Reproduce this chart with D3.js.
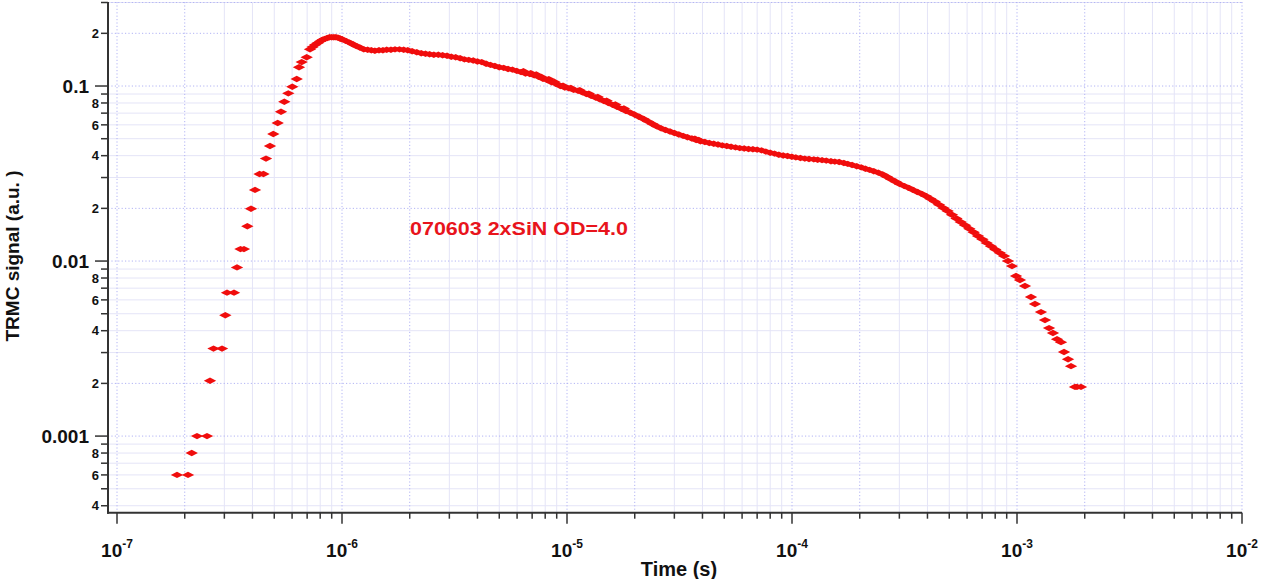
<!DOCTYPE html>
<html><head><meta charset="utf-8">
<script src="https://cdn.jsdelivr.net/npm/d3@7"></script>
<style>html,body{margin:0;padding:0;background:#fff;} svg{display:block;}</style>
</head><body><svg id="c" width="1261" height="579"></svg>
<script>
// ---- data: [time in microseconds, TRMC signal (a.u.)] ----
const risePts = [[0.1848,0.0006],[0.2068,0.0006],[0.2148,0.0008],[0.2268,0.001],[0.2512,0.001],[0.2590,0.00207],[0.2685,0.00316],[0.2929,0.00316],[0.3030,0.0049],[0.3083,0.0066],[0.3311,0.0066],[0.3415,0.0092],[0.3538,0.0117],[0.3667,0.0117],
[0.3795,0.0158],[0.3941,0.0199],[0.4106,0.0255],[0.4300,0.0314],[0.4478,0.0314],[0.4595,0.0385],[0.4786,0.0454],[0.4951,0.0532],[0.5178,0.0615],[0.5357,0.0713],[0.5541,0.0813],[0.5772,0.0908],[0.6013,0.0991],[0.6291,0.1097],[0.6440,0.128],[0.6620,0.137],[0.6968,0.146],[0.7206,0.162]];
const peakPts = [[0.74,0.167],[0.76,0.172],[0.78,0.176],[0.80,0.180],[0.82,0.184],[0.84,0.186],[0.86,0.188],[0.88,0.190],[0.90,0.190],[0.92,0.190],[0.94,0.190],[0.96,0.189],[0.98,0.187],[1.00,0.185],
[1.04,0.181],[1.08,0.177],[1.12,0.173],[1.16,0.169],[1.20,0.166],[1.25,0.162],[1.30,0.161],[1.35,0.160],[1.40,0.159],[1.46,0.160],[1.52,0.160],[1.58,0.161],[1.65,0.161],[1.72,0.162],[1.80,0.162],[1.88,0.161],[1.96,0.160],
[2.05,0.158],[2.15,0.156],[2.25,0.154],[2.35,0.153],[2.45,0.152],[2.56,0.151],[2.68,0.151],[2.80,0.150],[2.93,0.149],[3.06,0.147],[3.20,0.146],[3.35,0.144],[3.50,0.142],[3.66,0.141],[3.83,0.140],[4.00,0.138]];
const decayPts = [[4.18,0.137],[4.37,0.134],[4.57,0.132],[4.78,0.130],[5.00,0.128],[5.23,0.127],[5.47,0.125],[5.72,0.124],[5.98,0.122],[6.25,0.120],[6.54,0.118],[6.84,0.117],[7.15,0.115],[7.48,0.113],[7.82,0.110],[8.18,0.108],[8.55,0.105],[8.94,0.103],[9.35,0.100],
[9.78,0.098],[10.2,0.097],[10.7,0.095],[11.2,0.094],[11.7,0.092],[12.2,0.090],[12.8,0.088],[13.4,0.086],[14.0,0.084],[14.6,0.082],[15.3,0.080],[16.0,0.078],[16.7,0.076],[17.5,0.074],[18.3,0.072],[19.1,0.0705],[20.0,0.0686],[20.9,0.0668],[21.9,0.0648],[22.9,0.0628],[24.0,0.0607],[25.1,0.0588],[26.2,0.0573],[27.4,0.0561],[28.7,0.0550],[30.0,0.0539],[31.4,0.0528],[32.8,0.0519],[34.3,0.0510],[35.9,0.0501],[37.5,0.0492],[39.2,0.0484],[41.0,0.0479],[42.9,0.0473],[44.9,0.0468],[46.9,0.0463],[49.0,0.0458],[51.3,0.0454],[53.6,0.0450],[56.1,0.0446],[58.6,0.0442],[61.3,0.0440],[64.1,0.0437],[67.0,0.0435],[70.0,0.0433],[73.2,0.0429],[76.5,0.0422],[80.0,0.0416],[83.6,0.0411],[87.4,0.0405],[91.4,0.0401],[95.5,0.0398],[99.8,0.0394]];
const noisePts = [[6.4,0.1215],[6.9,0.1185],[7.3,0.1165],[7.7,0.1125],[8.3,0.1095],[8.8,0.1055],[9.6,0.1005],[10.4,0.0975],[11.4,0.0945],[12.5,0.0905],[13.7,0.0865],[15.0,0.0825],[16.4,0.0785],[17.9,0.0745],[37.0,0.0500],[38.5,0.0492]];
const slowPts = [[104,0.0391],[109,0.0388],[114,0.0385],[119,0.0383],[125,0.0381],[130,0.0379],[136,0.0377],[142,0.0375],[149,0.0372],[155,0.0370],[162,0.0368],[170,0.0363],[177,0.0359],[185,0.0354],[194,0.0348],[203,0.0343],[212,0.0337],[221,0.0332],[231,0.0326],[242,0.0320],[253,0.0312],[264,0.0303],[276,0.0293],[289,0.0284],[302,0.0275],[316,0.0268],[330,0.0262],[345,0.0255],[361,0.0248],[377,0.0242],[394,0.0235],[412,0.0227],[431,0.0219],[450,0.0210],[471,0.0201],[492,0.0193],[514,0.0184],[538,0.0175],[562,0.0167],[588,0.0160],[614,0.0153],[642,0.0146],[671,0.0139],[702,0.0133],[733,0.0127],[767,0.01215],[801,0.01165],[838,0.01114]];
const tailPts = [[876,0.01068],[912,0.0100],[950,0.00936],[990,0.00821],[1031,0.00779],[1085,0.00720],[1154,0.00623],[1202,0.00568],[1278,0.00511],[1332,0.00460],[1388,0.00414],[1445,0.00388],[1506,0.00358],[1569,0.00344],[1618,0.00302],[1686,0.00275],[1738,0.00251],[1810,0.00191],[1848,0.00191],[1925,0.00191]];

const xMajorTicks = [1e-7,1e-6,1e-5,1e-4,1e-3,1e-2];
const xMajorExps = ["-7","-6","-5","-4","-3","-2"];
const yMajorTicks = [0.001,0.01,0.1];
const yMajorLabels = ["0.001","0.01","0.1"];
const yMinorLabelMults = [2,4,6,8];
const gridDottedMults = [1,2];
const xTitle = "Time (s)";
const yTitle = "TRMC signal (a.u. )";
const annotation = "070603 2xSiN OD=4.0";

// ---- drawing ----
const svg = d3.select("#c");
const FONT = "'Liberation Sans', Arial, Helvetica, sans-serif";
const x = d3.scaleLog().domain([9.12e-8, 1e-2]).range([108, 1242]);
const y = d3.scaleLog().domain([3.65e-4, 0.302]).range([512.7, 2]);
const [x0,x1] = x.range(), [y0,y1] = y.range();

function logTicks(scale){
  const [a,b] = scale.domain(), out=[];
  for(let e=Math.floor(Math.log10(a)); e<=Math.ceil(Math.log10(b)); e++){
    for(let m=1;m<=9;m++){
      const v = +(m*Math.pow(10,e)).toPrecision(6);
      if(v>=a*0.9999 && v<=b*1.0001) out.push({v, m});
    }
  }
  return out;
}
const xt = logTicks(x), yt = logTicks(y);

const grid = svg.append("g");
const MINOR = "#e4e4f7", DOT = "#b2b4f4";
grid.selectAll("line.xm").data(xt.filter(d=>!gridDottedMults.includes(d.m))).join("line")
  .attr("x1",d=>x(d.v)).attr("x2",d=>x(d.v)).attr("y1",y1).attr("y2",y0)
  .attr("stroke",MINOR).attr("stroke-width",1);
grid.selectAll("line.ym").data(yt.filter(d=>!gridDottedMults.includes(d.m))).join("line")
  .attr("y1",d=>y(d.v)).attr("y2",d=>y(d.v)).attr("x1",x0).attr("x2",x1)
  .attr("stroke",MINOR).attr("stroke-width",1);
grid.selectAll("line.xd").data(xt.filter(d=>gridDottedMults.includes(d.m))).join("line")
  .attr("x1",d=>x(d.v)).attr("x2",d=>x(d.v)).attr("y1",y1).attr("y2",y0)
  .attr("stroke",DOT).attr("stroke-width",1).attr("stroke-dasharray","1.2,2.2");
grid.selectAll("line.yd").data(yt.filter(d=>gridDottedMults.includes(d.m))).join("line")
  .attr("y1",d=>y(d.v)).attr("y2",d=>y(d.v)).attr("x1",x0).attr("x2",x1)
  .attr("stroke",DOT).attr("stroke-width",1).attr("stroke-dasharray","1.2,2.2");
grid.append("line").attr("x1",x0).attr("x2",x1).attr("y1",y1+0.5).attr("y2",y1+0.5)
  .attr("stroke",DOT).attr("stroke-dasharray","1.2,2.2");

// data markers
const allPts = [].concat(risePts, peakPts, decayPts, noisePts, slowPts, tailPts);
svg.append("g").selectAll("path").data(allPts).join("path")
  .attr("d","M-6.2,0L0,-3.2L6.2,0L0,3.2Z")
  .attr("transform",d=>`translate(${x(d[0]*1e-6)},${y(d[1])})`)
  .attr("fill","#f00d0d");

// axes
const ax = svg.append("g").attr("stroke","#333").attr("fill","none");
ax.append("line").attr("x1",x0).attr("x2",x0).attr("y1",y1).attr("y2",y0+1).attr("stroke-width",2);
ax.append("line").attr("x1",x0-1).attr("x2",x1).attr("y1",y0).attr("y2",y0).attr("stroke-width",2);
ax.selectAll("line.yt").data(yt).join("line")
  .attr("x1",d=>d.m===1? x0-13 : x0-7).attr("x2",x0)
  .attr("y1",d=>y(d.v)).attr("y2",d=>y(d.v)).attr("stroke-width",1.5);
ax.selectAll("line.xt").data(xt).join("line")
  .attr("y1",y0).attr("y2",d=>d.m===1? y0+11 : y0+6)
  .attr("x1",d=>x(d.v)).attr("x2",d=>x(d.v)).attr("stroke-width",1.5);

const txt = svg.append("g").attr("font-family",FONT).attr("font-weight","bold").attr("fill","#111");
txt.selectAll("text.ymaj").data(yMajorTicks).join("text")
  .attr("x",x0-19).attr("y",(d)=>y(d)).attr("dy","0.36em")
  .attr("text-anchor","end").attr("font-size",19)
  .text((d,i)=>yMajorLabels[i]);
txt.selectAll("text.ymin").data(yt.filter(d=>yMinorLabelMults.includes(d.m))).join("text")
  .attr("x",x0-9).attr("y",d=>y(d.v)).attr("dy","0.36em")
  .attr("text-anchor","end").attr("font-size",13)
  .text(d=>d.m);
const xl = txt.selectAll("text.xl").data(xMajorTicks).join("text")
  .attr("x",d=>x(d)).attr("y",557).attr("text-anchor","middle").attr("font-size",19);
xl.append("tspan").text("10");
xl.append("tspan").attr("dy",-9).attr("font-size",12).text((d,i)=>xMajorExps[i]);

txt.append("text").attr("x",679).attr("y",576).attr("text-anchor","middle").attr("font-size",20).text(xTitle);
txt.append("text").attr("transform","translate(18.5,256) rotate(-90)").attr("text-anchor","middle").attr("font-size",19).text(yTitle);
svg.append("text").attr("x",410).attr("y",235).attr("font-family",FONT).attr("font-weight","bold")
  .attr("font-size",18).attr("textLength",218).attr("lengthAdjust","spacingAndGlyphs")
  .attr("fill","#e8141c").text(annotation);
</script></body></html>
